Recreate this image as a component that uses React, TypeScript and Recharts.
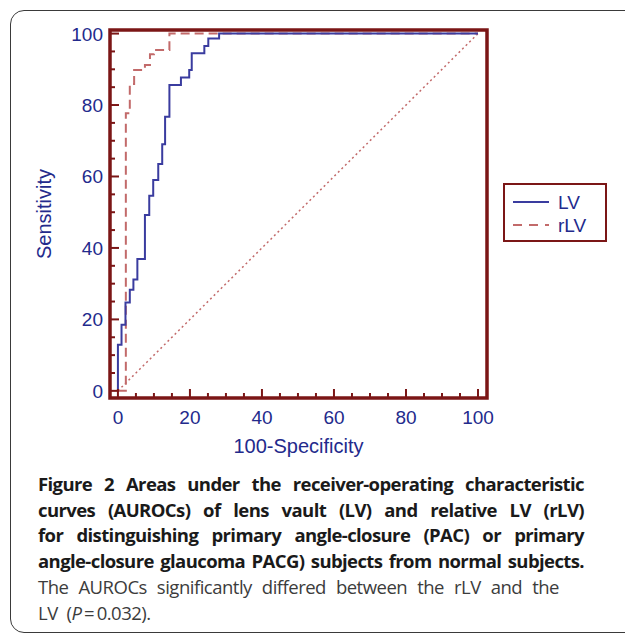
import { Legend, Line, LineChart, ReferenceArea, XAxis, YAxis } from 'recharts'

const MAROON = '#7b1616'
const NAVY = '#232a8c'
const LV_BLUE = '#3a3c9f'
const RLV_RED = '#c26a6a'
const AXIS_FONT = '"Liberation Sans", Arial, sans-serif'

// ROC corners: 100-Specificity where the curve steps up, and the sensitivity it reaches
const lvFpr = [0, 0, 1.0, 2.1, 3.3, 4.3, 5.4, 7.5, 8.7, 9.8, 11.2, 12.3, 13.1, 14.3, 17.5, 19.8, 20.5, 24.0, 25.1, 28.1, 100]
const lvSens = [0, 12.9, 18.5, 24.7, 28.3, 31.2, 36.9, 49.2, 54.6, 59.0, 63.5, 69.0, 76.7, 85.6, 87.7, 89.8, 94.5, 96.5, 98.6, 100, 100]

const rlvFpr = [0, 2.2, 3.3, 4.5, 7.5, 8.9, 10.0, 14.3, 100]
const rlvSens = [0, 77.7, 85.9, 89.8, 91.2, 94.2, 95.4, 100, 100]

// chance diagonal
const refFpr = [0, 100]
const refSens = [0, 100]

const majorTicks = [0, 20, 40, 60, 80, 100]
const allTicks = [0, 5, 10, 15, 20, 25, 30, 35, 40, 45, 50, 55, 60, 65, 70, 75, 80, 85, 90, 95, 100]

const X_DOMAIN: [number, number] = [-2.2, 102.5]
const Y_DOMAIN: [number, number] = [-2, 101]

const toPoints = (xs: number[], ys: number[]) => xs.map((x, i) => ({ x, y: ys[i] }))
const lvData = toPoints(lvFpr, lvSens)
const rlvData = toPoints(rlvFpr, rlvSens)
const refData = toPoints(refFpr, refSens)

// ticks point inwards, long at every 20, short at every 5
function XTick({ x, y, payload }: any) {
  const major = majorTicks.includes(payload.value)
  return (
    <g>
      <line x1={x} x2={x} y1={y} y2={y - (major ? 9 : 5)} stroke={MAROON} strokeWidth={2} />
      {major && (
        <text x={x} y={y + 26} textAnchor="middle" fill={NAVY} fontSize={19} fontFamily={AXIS_FONT}>
          {payload.value}
        </text>
      )}
    </g>
  )
}

function YTick({ x, y, payload }: any) {
  const major = majorTicks.includes(payload.value)
  return (
    <g>
      <line x1={x} x2={x + (major ? 9 : 5)} y1={y} y2={y} stroke={MAROON} strokeWidth={2} />
      {major && (
        <text x={x - 7} y={y} dy={7} textAnchor="end" fill={NAVY} fontSize={19} fontFamily={AXIS_FONT}>
          {payload.value}
        </text>
      )}
    </g>
  )
}

function LegendBox() {
  return (
    <svg width={104} height={59} style={{ display: 'block' }}>
      <rect x={1} y={1} width={102} height={57} fill="#fff" stroke={MAROON} strokeWidth={2} />
      <line x1={10} x2={46} y1={19} y2={19} stroke={LV_BLUE} strokeWidth={2} />
      <text x={55} y={26} fill={NAVY} fontSize={19} fontFamily={AXIS_FONT}>LV</text>
      <line x1={10} x2={46} y1={42} y2={42} stroke={RLV_RED} strokeWidth={2} strokeDasharray="9 7" />
      <text x={55} y={49} fill={NAVY} fontSize={19} fontFamily={AXIS_FONT}>rLV</text>
    </svg>
  )
}

const captionBold: React.CSSProperties = {
  fontWeight: 700,
  color: '#1a1a1a',
  textAlign: 'justify',
  textAlignLast: 'justify',
  width: 546,
  letterSpacing: -0.6,
}

const captionPlain: React.CSSProperties = {
  fontWeight: 400,
  color: '#3c3c3c',
  letterSpacing: -0.5,
}

export default function App() {
  return (
    <div style={{ position: 'absolute', left: 0, top: 0, width: 625, height: 636, overflow: 'hidden', background: '#fff' }}>
      <div
        style={{
          position: 'absolute',
          left: 10,
          top: 10,
          width: 700,
          height: 621,
          border: '1.5px solid #3a3a3a',
          borderRadius: 14,
        }}
      />
      <div style={{ position: 'absolute', left: 0, top: 0 }}>
        <LineChart width={625} height={470} margin={{ top: 30, right: 138, bottom: 0, left: 0 }}>
          <XAxis
            type="number"
            dataKey="x"
            domain={X_DOMAIN}
            ticks={allTicks}
            interval={0}
            height={72}
            axisLine={false}
            tickLine={false}
            tickSize={0}
            tickMargin={0}
            tick={<XTick />}
            label={{
              value: '100-Specificity',
              position: 'insideBottom',
              offset: 17,
              fill: NAVY,
              fontSize: 20,
              fontFamily: AXIS_FONT,
            }}
          />
          <YAxis
            type="number"
            dataKey="y"
            domain={Y_DOMAIN}
            ticks={allTicks}
            interval={0}
            width={110}
            axisLine={false}
            tickLine={false}
            tickSize={0}
            tickMargin={0}
            tick={<YTick />}
            label={{
              value: 'Sensitivity',
              angle: -90,
              position: 'insideLeft',
              offset: 44,
              fill: NAVY,
              fontSize: 20,
              fontFamily: AXIS_FONT,
              style: { textAnchor: 'middle' },
            }}
          />
          <Line
            data={refData}
            dataKey="y"
            type="linear"
            stroke={RLV_RED}
            strokeWidth={1.5}
            strokeDasharray="2 3"
            dot={false}
            activeDot={false}
            isAnimationActive={false}
          />
          <Line
            data={rlvData}
            dataKey="y"
            name="rLV"
            type="stepAfter"
            stroke={RLV_RED}
            strokeWidth={2}
            strokeDasharray="9 5"
            dot={false}
            activeDot={false}
            isAnimationActive={false}
          />
          <Line
            data={lvData}
            dataKey="y"
            name="LV"
            type="stepAfter"
            stroke={LV_BLUE}
            strokeWidth={2}
            dot={false}
            activeDot={false}
            isAnimationActive={false}
          />
          <ReferenceArea
            x1={X_DOMAIN[0]}
            x2={X_DOMAIN[1]}
            y1={Y_DOMAIN[0]}
            y2={Y_DOMAIN[1]}
            fill="none"
            stroke={MAROON}
            strokeWidth={3.5}
            ifOverflow="visible"
          />
          <Legend
            layout="vertical"
            align="center"
            verticalAlign="middle"
            wrapperStyle={{ left: 503, top: 183, width: 104, height: 59 }}
            content={<LegendBox />}
          />
        </LineChart>
      </div>
      <div
        style={{
          position: 'absolute',
          left: 38,
          top: 471,
          fontFamily: '"Open Sans", "Noto Sans", sans-serif',
          fontSize: 18.5,
          lineHeight: '25.7px',
        }}
      >
        <div style={captionBold}>Figure 2 Areas under the receiver-operating characteristic</div>
        <div style={captionBold}>curves (AUROCs) of lens vault (LV) and relative LV (rLV)</div>
        <div style={captionBold}>for distinguishing primary angle-closure (PAC) or primary</div>
        <div style={captionBold}>angle-closure glaucoma PACG) subjects from normal subjects.</div>
        <div style={{ ...captionPlain, width: 521, textAlign: 'justify', textAlignLast: 'justify' }}>
          The AUROCs significantly differed between the rLV and the
        </div>
        <div style={captionPlain}>
          LV{'\u2002'}(<i>P</i>{'\u2009'}={'\u2009'}0.032).
        </div>
      </div>
    </div>
  )
}
